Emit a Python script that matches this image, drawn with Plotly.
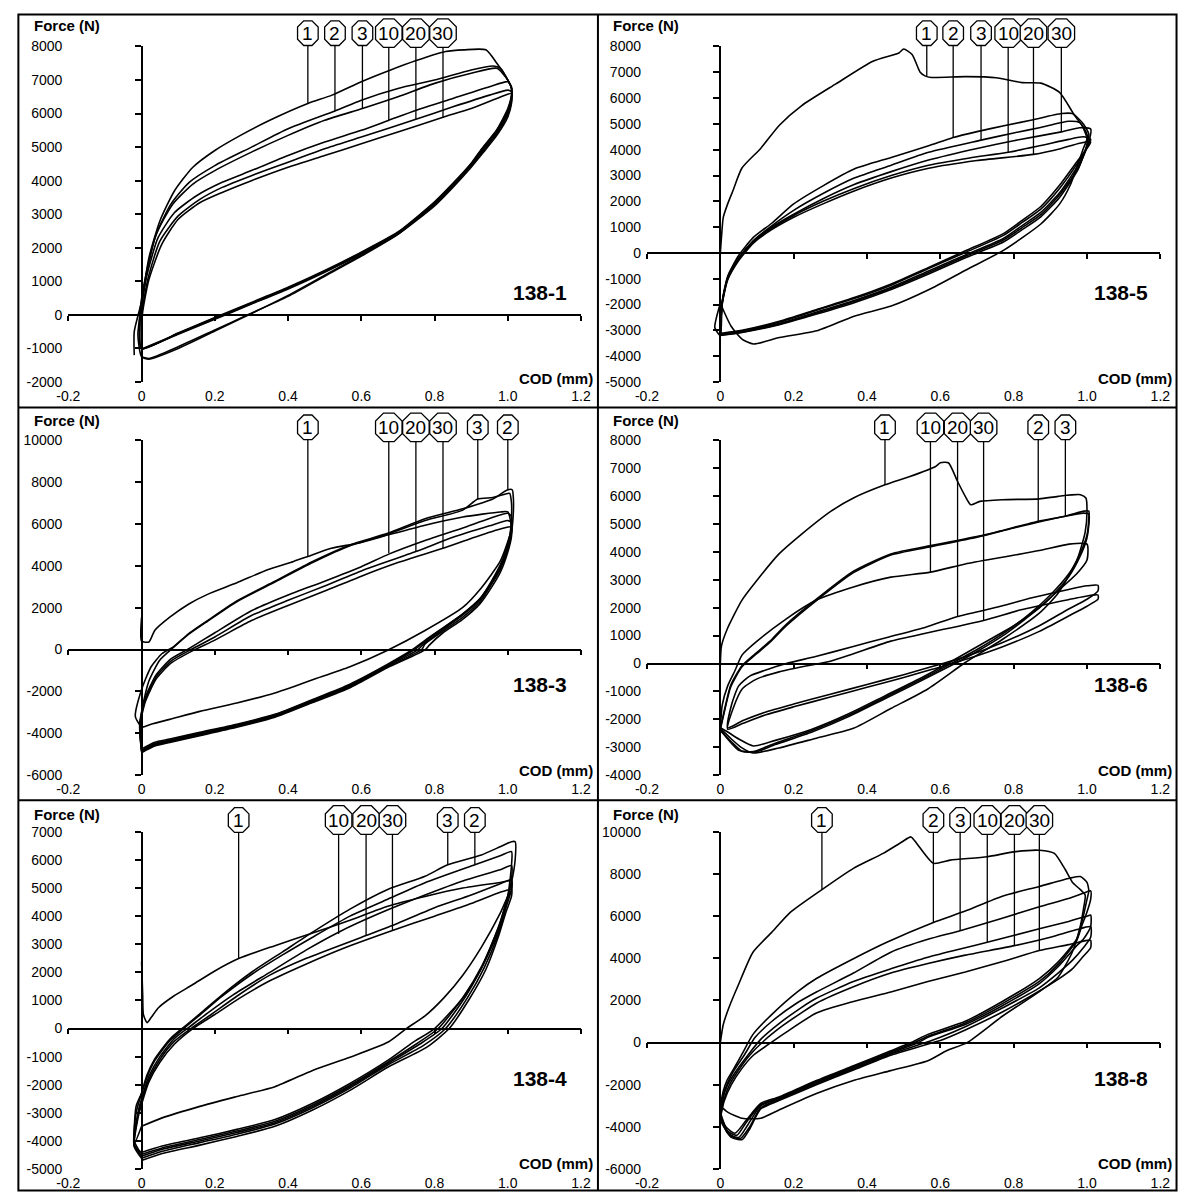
import plotly.graph_objects as go

W, H = 1188, 1200
FONT = "Liberation Sans, Arial, sans-serif"

# ------------------------------------------------------------------ data
X_TICKS = [-0.2, 0, 0.2, 0.4, 0.6, 0.8, 1.0, 1.2]
X_TICK_TEXT = ["-0.2", "0", "0.2", "0.4", "0.6", "0.8", "1.0", "1.2"]
X_RANGE = [-0.2, 1.2]

# ---------- 138-1
P1_NAME = "138-1"
P1_YRANGE = [-2000, 8000]
P1_YSTEP = 1000
P1_C1 = [(-0.02,-1200),(-0.02,-500),(0.0,400),(0.02,1700),(0.05,2800),(0.09,3700),(0.14,4400),(0.2,4900),(0.27,5350),(0.35,5800),(0.454,6300),(0.52,6550),(0.6,6950),(0.68,7300),(0.75,7580),(0.83,7850),(0.88,7900),(0.94,7900),(0.97,7500),(1.0,7000),(1.01,6750),
         (1.01,6300),(1.0,5900),(0.97,5350),(0.93,4800),(0.9,4400),(0.85,3800),(0.8,3250),(0.7,2400),(0.6,1750),(0.5,1150),(0.4,550),(0.29,0),(0.2,-450),(0.1,-950),(0.02,-1300),(0.0,-1250)]
P1_C2 = [(0.0,-1250),(-0.01,-600),(0.0,300),(0.015,1300),(0.04,2400),(0.08,3300),(0.13,3950),(0.2,4450),(0.3,5000),(0.4,5550),(0.528,6080),(0.6,6400),(0.7,6750),(0.8,7000),(0.9,7300),(0.96,7420),(0.98,7350),(1.0,7000),(1.01,6750),
         (1.01,6350),(1.0,6000),(0.97,5400),(0.93,4850),(0.9,4450),(0.85,3850),(0.8,3300),(0.7,2420),(0.6,1780),(0.5,1180),(0.4,580),(0.3,40),(0.2,-480),(0.1,-1000),(0.02,-1320),(0.0,-1250)]
P1_C3 = [(0.0,-1000),(-0.005,0),(0.012,1200),(0.04,2400),(0.085,3300),(0.14,3900),(0.2,4300),(0.3,4850),(0.4,5350),(0.5,5800),(0.603,6150),(0.7,6500),(0.8,6900),(0.9,7200),(0.97,7350),(1.0,7000),(1.01,6750),
         (1.01,6500),(1.0,6100),(0.97,5500),(0.93,4950),(0.9,4500),(0.85,3900),(0.8,3350),(0.7,2450),(0.6,1850),(0.5,1300),(0.4,800),(0.3,350),(0.2,-100),(0.1,-550),(0.0,-1000)]
P1_C10 = [(0.0,-1000),(-0.003,0),(0.015,1200),(0.045,2300),(0.09,3050),(0.15,3550),(0.22,3950),(0.3,4300),(0.4,4750),(0.5,5150),(0.6,5500),(0.675,5800),(0.75,6100),(0.85,6450),(0.95,6800),(1.0,6950),(1.01,6800),
          (1.01,6550),(1.0,6150),(0.97,5520),(0.93,4970),(0.9,4520),(0.85,3920),(0.8,3370),(0.7,2470),(0.6,1870),(0.5,1320),(0.4,820),(0.3,370),(0.2,-80),(0.1,-540),(0.0,-1000)]
P1_C20 = [(0.0,-1000),(0.0,0),(0.018,1100),(0.05,2200),(0.1,2950),(0.16,3450),(0.22,3800),(0.3,4150),(0.4,4550),(0.5,4950),(0.6,5300),(0.749,5830),(0.85,6200),(0.95,6550),(1.0,6700),(1.01,6650),
          (1.01,6450),(1.0,6050),(0.97,5480),(0.93,4930),(0.9,4480),(0.85,3880),(0.8,3330),(0.7,2430),(0.6,1830),(0.5,1290),(0.4,790),(0.3,340),(0.2,-110),(0.1,-560),(0.0,-1020)]
P1_C30 = [(0.0,-1020),(0.002,0),(0.02,1050),(0.055,2100),(0.1,2850),(0.16,3350),(0.22,3650),(0.3,4000),(0.4,4400),(0.5,4750),(0.6,5100),(0.7,5450),(0.823,5890),(0.9,6150),(0.97,6450),(1.01,6600),
          (1.01,6400),(1.0,6000),(0.97,5450),(0.93,4900),(0.9,4460),(0.85,3860),(0.8,3310),(0.7,2410),(0.6,1810),(0.5,1270),(0.4,770),(0.3,320),(0.2,-130),(0.1,-580),(0.0,-1040)]
P1_LABELS = ["1", "2", "3", "10", "20", "30"]
P1_LABEL_X = [0.454, 0.528, 0.603, 0.675, 0.749, 0.823]
P1_LABEL_F = [6300, 6080, 6150, 5800, 5830, 5890]

# ---------- 138-5
P2_NAME = "138-5"
P2_YRANGE = [-5000, 8000]
P2_YSTEP = 1000
P2_C1 = [(0.0,0),(0.003,600),(0.008,1380),(0.02,1900),(0.034,2400),(0.059,3290),(0.11,4050),(0.161,4950),(0.222,5710),(0.314,6540),(0.416,7430),(0.487,7750),(0.5,7900),(0.523,7690),(0.545,7000),(0.558,6860),(0.575,6800),(0.67,6830),(0.752,6790),(0.823,6600),(0.874,6580),(0.925,6220),(0.966,5330),(0.986,4950),(1.0,4430),
         (0.99,4050),(0.955,2650),(0.925,1890),(0.874,1120),(0.772,100),(0.67,-660),(0.568,-1430),(0.466,-2060),(0.365,-2450),(0.263,-3020),(0.161,-3280),(0.09,-3530),(0.059,-3340),(0.029,-2830),(0.0,-1950)]
P2_C2 = [(0.0,-1950),(-0.015,-2900),(0.0,-3200),(0.005,-1900),(0.02,-900),(0.05,-100),(0.09,600),(0.14,1150),(0.2,1900),(0.28,2600),(0.365,3250),(0.466,3700),(0.568,4150),(0.635,4470),(0.7,4700),(0.78,4950),(0.85,5150),(0.93,5400),(0.96,5400),(0.99,5000),(1.005,4600),
         (1.0,4200),(0.976,3250),(0.925,2150),(0.874,1400),(0.823,900),(0.772,420),(0.67,-180),(0.568,-820),(0.466,-1420),(0.365,-1930),(0.263,-2370),(0.161,-2780),(0.059,-3080),(0.0,-3200)]
P2_C3 = [(0.0,-3200),(0.005,-1900),(0.02,-950),(0.05,-200),(0.09,480),(0.14,1050),(0.2,1650),(0.28,2300),(0.365,2900),(0.466,3400),(0.568,3900),(0.711,4370),(0.8,4650),(0.87,4850),(0.95,5100),(0.98,5050),(1.0,4600),
         (1.0,4150),(0.976,3400),(0.925,2330),(0.874,1570),(0.823,1060),(0.772,560),(0.67,-70),(0.568,-700),(0.466,-1330),(0.365,-1840),(0.263,-2290),(0.161,-2730),(0.059,-3050),(0.0,-3170)]
P2_C10 = [(0.0,-3170),(0.005,-1950),(0.02,-1000),(0.05,-250),(0.09,420),(0.14,950),(0.2,1450),(0.28,2000),(0.365,2500),(0.466,3000),(0.568,3400),(0.68,3680),(0.785,3900),(0.87,4150),(0.95,4400),(0.99,4500),(1.01,4400),
          (1.0,4100),(0.976,3520),(0.925,2500),(0.874,1700),(0.823,1180),(0.772,680),(0.67,30),(0.568,-600),(0.466,-1250),(0.365,-1770),(0.263,-2220),(0.161,-2680),(0.059,-3020),(0.0,-3140)]
P2_C20 = [(0.0,-3140),(0.005,-2000),(0.02,-1050),(0.05,-300),(0.09,380),(0.14,900),(0.2,1380),(0.28,1900),(0.365,2400),(0.466,2900),(0.568,3280),(0.7,3580),(0.854,3820),(0.93,4050),(0.98,4250),(1.01,4300),
          (1.0,4050),(0.976,3600),(0.925,2620),(0.874,1800),(0.823,1260),(0.772,750),(0.67,90),(0.568,-560),(0.466,-1200),(0.365,-1730),(0.263,-2190),(0.161,-2650),(0.059,-3000),(0.0,-3120)]
P2_C30 = [(0.0,-3120),(0.005,-1950),(0.02,-980),(0.05,-220),(0.09,450),(0.14,1000),(0.2,1500),(0.28,2100),(0.365,2650),(0.466,3150),(0.568,3600),(0.7,4050),(0.8,4350),(0.93,4690),(0.98,4850),(1.01,4800),
          (1.005,4300),(0.976,3300),(0.925,2250),(0.874,1480),(0.823,980),(0.772,500),(0.67,-120),(0.568,-760),(0.466,-1370),(0.365,-1880),(0.263,-2330),(0.161,-2760),(0.059,-3070),(0.0,-3180)]
P2_LABELS = ["1", "2", "3", "10", "20", "30"]
P2_LABEL_X = [0.563, 0.635, 0.711, 0.785, 0.854, 0.930]
P2_LABEL_F = [6860, 4470, 4370, 3900, 3820, 4690]

# ---------- 138-3
P3_NAME = "138-3"
P3_YRANGE = [-6000, 10000]
P3_YSTEP = 2000
P3_C1 = [(0.0,1540),(0.0,400),(0.02,360),(0.036,910),(0.077,1540),(0.128,2160),(0.18,2630),(0.26,3180),(0.344,3810),(0.415,4200),(0.454,4440),(0.518,4830),(0.59,5070),(0.672,5460),(0.774,5930),(0.877,6320),(0.979,6560),(1.0,6560),
         (1.01,5770),(1.0,5150),(0.979,4200),(0.928,2950),(0.877,2010),(0.774,910),(0.672,-30),(0.569,-820),(0.467,-1440),(0.364,-2070),(0.26,-2550),(0.159,-2950),(0.077,-3330),(0.026,-3560),(0.0,-3720)]
P3_C2 = [(0.0,-3720),(-0.017,-3200),(0.0,-1910),(0.026,-820),(0.056,-190),(0.087,130),(0.128,750),(0.18,1380),(0.26,2320),(0.364,3260),(0.467,4200),(0.569,4990),(0.672,5540),(0.774,6240),(0.877,6710),(0.959,7180),(0.99,7530),(1.0,7620),(1.012,7620),(1.015,7260),
         (1.015,6500),(1.01,5600),(0.99,4300),(0.959,3300),(0.928,2500),(0.877,1700),(0.826,1070),(0.774,440),(0.74,0),(0.672,-700),(0.569,-1650),(0.467,-2380),(0.364,-3090),(0.26,-3560),(0.159,-3950),(0.077,-4270),(0.036,-4420),(0.0,-4740)]
P3_C3 = [(0.0,-4740),(0.0,-3000),(0.02,-1500),(0.05,-500),(0.087,100),(0.128,720),(0.18,1350),(0.26,2280),(0.364,3220),(0.467,4150),(0.569,4950),(0.672,5500),(0.774,6150),(0.877,6650),(0.918,7180),(0.959,7250),(0.99,7400),(1.005,7450),(1.01,7000),
         (1.01,6300),(1.005,5400),(0.985,4250),(0.955,3250),(0.925,2450),(0.874,1650),(0.823,1020),(0.774,400),(0.745,0),(0.672,-750),(0.569,-1700),(0.467,-2420),(0.364,-3120),(0.26,-3600),(0.159,-4000),(0.077,-4320),(0.036,-4480),(0.0,-4800)]
P3_C10 = [(0.0,-4800),(-0.005,-3500),(0.01,-2300),(0.04,-1200),(0.08,-450),(0.13,50),(0.2,800),(0.3,1850),(0.4,2600),(0.5,3260),(0.6,3950),(0.675,4550),(0.774,5200),(0.877,5800),(0.95,6250),(1.0,6500),(1.01,6350),
          (1.01,5900),(1.0,5000),(0.98,4000),(0.955,3200),(0.925,2400),(0.874,1600),(0.823,950),(0.774,330),(0.755,0),(0.672,-780),(0.569,-1740),(0.467,-2450),(0.364,-3150),(0.26,-3630),(0.159,-4030),(0.077,-4350),(0.036,-4520),(0.0,-4850)]
P3_C20 = [(0.0,-4850),(-0.005,-3600),(0.01,-2400),(0.04,-1300),(0.08,-550),(0.135,0),(0.2,600),(0.3,1620),(0.4,2350),(0.5,3030),(0.6,3750),(0.749,4670),(0.85,5350),(0.95,5900),(1.0,6150),(1.01,6050),
          (1.01,5600),(1.0,4800),(0.98,3850),(0.955,3100),(0.925,2300),(0.874,1500),(0.823,880),(0.774,270),(0.765,0),(0.672,-820),(0.569,-1780),(0.467,-2490),(0.364,-3190),(0.26,-3670),(0.159,-4070),(0.077,-4390),(0.036,-4560),(0.0,-4880)]
P3_C30 = [(0.0,-4880),(-0.005,-3700),(0.01,-2500),(0.04,-1400),(0.08,-650),(0.14,-50),(0.2,450),(0.3,1380),(0.4,2100),(0.5,2790),(0.6,3500),(0.7,4150),(0.823,4830),(0.9,5300),(0.97,5700),(1.01,5850),
          (1.01,5400),(1.0,4650),(0.98,3700),(0.955,2950),(0.925,2200),(0.874,1400),(0.823,800),(0.785,200),(0.775,0),(0.672,-860),(0.569,-1820),(0.467,-2530),(0.364,-3230),(0.26,-3710),(0.159,-4110),(0.077,-4430),(0.036,-4600),(0.0,-4920)]
P3_LABELS = ["1", "10", "20", "30", "3", "2"]
P3_LABEL_X = [0.454, 0.675, 0.749, 0.823, 0.918, 1.0]
P3_LABEL_F = [4440, 4600, 4670, 4830, 7180, 7620]

# ---------- 138-6
P4_NAME = "138-6"
P4_YRANGE = [-4000, 8000]
P4_YSTEP = 1000
P4_C1 = [(0.0,0),(0.003,620),(0.018,1210),(0.059,2270),(0.1,2980),(0.16,3920),(0.221,4620),(0.302,5450),(0.363,5920),(0.449,6390),(0.515,6680),(0.586,7040),(0.6,7180),(0.622,7180),(0.647,6510),(0.668,5980),(0.683,5680),(0.708,5800),(0.769,5860),(0.87,5890),(0.921,5980),(0.982,6040),(0.997,5920),(1.0,5450),
         (0.995,4700),(0.972,3680),(0.921,2510),(0.87,1800),(0.769,860),(0.668,35),(0.566,-910),(0.465,-1610),(0.363,-2320),(0.262,-2670),(0.16,-3020),(0.089,-3200),(0.059,-3020),(0.03,-2700),(0.0,-2320)]
P4_C2 = [(0.0,-2320),(0.008,-1850),(0.028,-790),(0.059,-80),(0.1,400),(0.14,860),(0.18,1400),(0.262,2300),(0.363,3300),(0.465,3920),(0.566,4200),(0.627,4350),(0.728,4620),(0.867,5090),(0.941,5270),(0.992,5450),(1.005,5450),
         (1.005,5200),(1.0,4600),(0.98,3900),(0.95,3200),(0.9,2450),(0.85,1850),(0.78,1150),(0.7,500),(0.63,0),(0.55,-550),(0.45,-1200),(0.35,-1850),(0.25,-2400),(0.15,-2850),(0.09,-3150),(0.05,-3100),(0.02,-2700),(0.0,-2350)]
P4_C3 = [(0.0,-2350),(0.008,-1900),(0.028,-850),(0.059,-120),(0.1,360),(0.14,820),(0.18,1350),(0.262,2250),(0.363,3250),(0.465,3880),(0.566,4160),(0.7,4520),(0.8,4850),(0.941,5270),(0.99,5380),(1.005,5350),
         (1.0,4500),(0.98,3800),(0.95,3100),(0.9,2350),(0.85,1780),(0.78,1080),(0.7,430),(0.64,0),(0.55,-600),(0.45,-1250),(0.35,-1900),(0.25,-2450),(0.15,-2900),(0.1,-3150),(0.06,-3150),(0.03,-2800),(0.0,-2400)]
P4_C10 = [(0.0,-2400),(0.005,-1500),(0.02,-800),(0.04,-250),(0.059,300),(0.1,800),(0.18,1600),(0.262,2270),(0.363,2740),(0.465,3090),(0.573,3270),(0.668,3560),(0.769,3800),(0.87,4040),(0.951,4270),(1.0,4270),
          (1.0,3700),(0.972,3210),(0.921,2600),(0.87,2000),(0.8,1350),(0.7,600),(0.62,0),(0.55,-500),(0.45,-1150),(0.35,-1800),(0.25,-2350),(0.15,-2750),(0.09,-2950),(0.05,-2700),(0.02,-2450),(0.0,-2300)]
P4_C20 = [(0.02,-2300),(0.03,-1500),(0.05,-800),(0.08,-450),(0.12,-250),(0.18,0),(0.26,250),(0.36,600),(0.46,950),(0.56,1300),(0.647,1680),(0.75,2000),(0.85,2350),(0.95,2650),(1.0,2780),(1.03,2800),(1.03,2600),
          (1.0,2300),(0.95,1950),(0.87,1350),(0.77,750),(0.67,250),(0.58,-100),(0.5,-400),(0.4,-750),(0.3,-1100),(0.2,-1450),(0.12,-1750),(0.06,-2050),(0.02,-2300)]
P4_C30 = [(0.02,-2350),(0.035,-1600),(0.06,-900),(0.1,-550),(0.16,-300),(0.23,-100),(0.3,80),(0.363,350),(0.465,800),(0.566,1100),(0.718,1540),(0.82,1920),(0.921,2210),(0.99,2390),(1.03,2450),(1.03,2300),
          (1.0,2050),(0.95,1700),(0.87,1150),(0.77,600),(0.67,150),(0.58,-200),(0.5,-500),(0.4,-850),(0.3,-1200),(0.2,-1550),(0.12,-1850),(0.06,-2150),(0.02,-2350)]
P4_LABELS = ["1", "10", "20", "30", "2", "3"]
P4_LABEL_X = [0.449, 0.573, 0.647, 0.718, 0.867, 0.941]
P4_LABEL_F = [6390, 3270, 1680, 1540, 5090, 5270]

# ---------- 138-4
P5_NAME = "138-4"
P5_YRANGE = [-5000, 7000]
P5_YSTEP = 1000
P5_C1 = [(0.0,2380),(0.003,1200),(0.005,500),(0.015,210),(0.026,390),(0.046,740),(0.087,1150),(0.138,1550),(0.2,2050),(0.265,2490),(0.364,2950),(0.467,3400),(0.569,3850),(0.672,4350),(0.774,4700),(0.877,5000),(0.979,5200),(1.01,5250),
         (1.01,4900),(1.0,4700),(0.979,4100),(0.928,2900),(0.877,1900),(0.826,1100),(0.774,450),(0.723,0),(0.672,-490),(0.569,-1020),(0.467,-1490),(0.364,-2070),(0.26,-2420),(0.159,-2770),(0.056,-3180),(0.0,-3480)]
P5_C2 = [(0.0,-3480),(-0.02,-4100),(-0.015,-2770),(0.0,-2300),(0.015,-1720),(0.036,-1140),(0.077,-430),(0.118,35),(0.159,480),(0.22,1150),(0.303,1950),(0.385,2620),(0.467,3250),(0.569,4000),(0.672,4600),(0.774,5190),(0.91,5830),(0.979,6150),(1.01,6300),
         (1.01,5800),(1.0,4720),(0.979,3780),(0.928,2140),(0.877,1090),(0.8,0),(0.74,-500),(0.672,-1135),(0.569,-1955),(0.467,-2660),(0.364,-3240),(0.26,-3590),(0.159,-3890),(0.056,-4180),(0.0,-4410)]
P5_C3 = [(0.0,-4410),(-0.02,-4200),(-0.015,-3000),(0.0,-2300),(0.015,-1650),(0.036,-1080),(0.077,-380),(0.118,80),(0.159,520),(0.22,1200),(0.303,2030),(0.385,2730),(0.467,3430),(0.569,4250),(0.672,4950),(0.774,5420),(0.836,5830),(0.928,6180),(0.979,6470),(1.01,6650),(1.02,6650),(1.02,6000),
         (1.01,5200),(0.995,4500),(0.975,3600),(0.93,2250),(0.88,1150),(0.81,0),(0.75,-550),(0.672,-1200),(0.569,-2020),(0.467,-2720),(0.364,-3300),(0.26,-3650),(0.159,-3950),(0.056,-4250),(0.0,-4480)]
P5_C10 = [(0.0,-4480),(-0.02,-4000),(-0.01,-3000),(0.0,-2500),(0.02,-1700),(0.05,-1000),(0.09,-350),(0.13,50),(0.18,550),(0.25,1200),(0.35,2000),(0.45,2800),(0.538,3430),(0.65,4100),(0.774,4750),(0.877,5250),(0.979,5650),(1.01,5800),
          (1.01,5300),(0.995,4400),(0.975,3500),(0.93,2200),(0.885,1150),(0.82,0),(0.76,-550),(0.672,-1250),(0.569,-2070),(0.467,-2770),(0.364,-3350),(0.26,-3700),(0.159,-4000),(0.056,-4300),(0.0,-4550)]
P5_C20 = [(0.0,-4550),(-0.02,-4100),(-0.01,-3100),(0.0,-2600),(0.02,-1800),(0.05,-1100),(0.09,-450),(0.135,0),(0.19,500),(0.26,1150),(0.35,1900),(0.45,2500),(0.613,3310),(0.7,3750),(0.8,4300),(0.9,4750),(0.979,5150),(1.01,5300),
          (1.01,4950),(0.995,4300),(0.975,3400),(0.935,2150),(0.89,1100),(0.83,0),(0.77,-600),(0.672,-1300),(0.569,-2120),(0.467,-2820),(0.364,-3400),(0.26,-3760),(0.159,-4060),(0.056,-4370),(0.0,-4620)]
P5_C30 = [(0.0,-4620),(-0.02,-4200),(-0.01,-3200),(0.0,-2700),(0.02,-1900),(0.05,-1200),(0.09,-550),(0.14,0),(0.2,500),(0.27,1100),(0.35,1700),(0.45,2300),(0.55,2850),(0.685,3490),(0.8,4000),(0.9,4450),(0.979,4850),(1.01,4950),
          (1.01,4700),(0.995,4150),(0.975,3300),(0.94,2100),(0.895,1050),(0.84,0),(0.78,-650),(0.672,-1380),(0.569,-2200),(0.467,-2900),(0.364,-3480),(0.26,-3840),(0.159,-4150),(0.056,-4450),(0.0,-4700)]
P5_LABELS = ["1", "10", "20", "30", "3", "2"]
P5_LABEL_X = [0.265, 0.538, 0.613, 0.685, 0.836, 0.910]
P5_LABEL_F = [2490, 3370, 3310, 3490, 5830, 5830]

# ---------- 138-8
P6_NAME = "138-8"
P6_YRANGE = [-6000, 10000]
P6_YSTEP = 2000
P6_C1 = [(0.0,0),(0.008,860),(0.023,1640),(0.049,2730),(0.089,4290),(0.14,5230),(0.19,6170),(0.277,7260),(0.363,8270),(0.444,8980),(0.495,9520),(0.52,9760),(0.536,9440),(0.581,8510),(0.627,8660),(0.728,8820),(0.8,9050),(0.87,9130),(0.911,8980),(0.941,8200),(0.962,7570),(0.982,7260),(0.995,7000),
         (0.99,6300),(0.98,5400),(0.96,4300),(0.921,3100),(0.87,2420),(0.769,1250),(0.673,0),(0.617,-390),(0.566,-860),(0.465,-1330),(0.363,-1800),(0.262,-2420),(0.16,-3200),(0.11,-3590),(0.059,-3590),(0.02,-3300),(0.0,-3000)]
P6_C2 = [(0.0,-3000),(0.008,-2300),(0.018,-1800),(0.039,-1170),(0.059,-550),(0.089,390),(0.14,1330),(0.211,2420),(0.262,3040),(0.363,3980),(0.454,4760),(0.581,5700),(0.668,6240),(0.769,6950),(0.87,7410),(0.952,7800),(0.982,7880),(1.0,7600),(1.005,7200),
         (1.0,6800),(0.99,6000),(0.972,4920),(0.921,3820),(0.87,3040),(0.769,1950),(0.668,1010),(0.566,390),(0.52,0),(0.465,-390),(0.363,-1100),(0.262,-1800),(0.16,-2580),(0.11,-2890),(0.07,-3700),(0.04,-4300),(0.015,-4000),(0.0,-3300)]
P6_C3 = [(0.0,-3300),(0.008,-2500),(0.02,-1900),(0.04,-1250),(0.065,-600),(0.095,250),(0.14,1000),(0.211,1900),(0.262,2400),(0.363,3300),(0.465,4290),(0.566,4900),(0.654,5310),(0.769,5900),(0.87,6450),(0.952,6850),(0.992,7100),(1.01,7200),(1.01,6800),
         (1.0,6200),(0.985,5500),(0.972,4850),(0.921,3700),(0.87,2900),(0.769,1850),(0.668,930),(0.566,300),(0.53,0),(0.465,-450),(0.363,-1150),(0.262,-1850),(0.16,-2620),(0.11,-2950),(0.07,-3800),(0.045,-4400),(0.02,-4200),(0.0,-3400)]
P6_C10 = [(0.0,-3400),(0.008,-2600),(0.02,-2000),(0.045,-1300),(0.075,-600),(0.11,150),(0.16,900),(0.22,1650),(0.262,2100),(0.363,2900),(0.465,3500),(0.566,4050),(0.668,4500),(0.728,4760),(0.87,5400),(0.95,5750),(1.0,6000),(1.01,6050),
          (1.01,5500),(0.99,4900),(0.972,4600),(0.921,3600),(0.87,2800),(0.769,1750),(0.668,860),(0.566,250),(0.54,0),(0.465,-500),(0.363,-1200),(0.262,-1900),(0.16,-2650),(0.11,-3000),(0.075,-3900),(0.05,-4500),(0.02,-4300),(0.0,-3500)]
P6_C20 = [(0.0,-3500),(0.01,-2700),(0.025,-2000),(0.05,-1300),(0.08,-600),(0.12,100),(0.17,800),(0.22,1400),(0.262,1870),(0.363,2650),(0.465,3300),(0.566,3750),(0.668,4150),(0.802,4600),(0.9,5000),(0.97,5350),(1.01,5500),
          (1.01,5000),(0.99,4500),(0.96,3900),(0.921,3300),(0.87,2600),(0.769,1640),(0.668,750),(0.6,250),(0.56,0),(0.465,-550),(0.363,-1250),(0.262,-1950),(0.16,-2700),(0.11,-3100),(0.08,-4000),(0.055,-4550),(0.025,-4400),(0.0,-3600)]
P6_C30 = [(0.0,-3600),(0.01,-2800),(0.03,-2000),(0.06,-1200),(0.09,-600),(0.13,-100),(0.18,500),(0.262,1400),(0.363,1950),(0.465,2400),(0.566,2900),(0.668,3350),(0.78,3900),(0.87,4370),(0.95,4650),(1.0,4850),(1.01,4850),
          (1.01,4500),(0.99,4100),(0.96,3500),(0.921,3000),(0.87,2450),(0.769,1450),(0.668,600),(0.6,100),(0.58,0),(0.465,-600),(0.363,-1300),(0.262,-2000),(0.16,-2750),(0.11,-3150),(0.08,-4100),(0.06,-4600),(0.03,-4500),(0.0,-3700)]
P6_LABELS = ["1", "2", "3", "10", "20", "30"]
P6_LABEL_X = [0.277, 0.581, 0.654, 0.728, 0.802, 0.870]
P6_LABEL_F = [7260, 5700, 5310, 4760, 4600, 4370]

# ------------------------------------------------------------------ geometry (pixels)
COL_PLOT = [(57.4, 579.8), (647.0, 1170.0)]
ROW_PLOT = [(39.0, 379.0), (437.7, 777.7), (835.0, 1176.7)]
COL_RIGHT_EDGE = [594.0, 1184.0]
COL_LEFT_EDGE = [20.0, 610.0]
ROW_TITLE_Y = [18.0, 418.0, 817.0]
ROW_COD_Y = [375.0, 773.0, 1171.0]
ROW_NAME_Y = [288.0, 686.0, 1085.0]
COL_NAME_X = [538.0, 1130.0]
ROW_CIRCLE_Y = [25.5, 425.0, 823.0]


def px(x):
    return x / W


def py(y):
    return 1 - y / H


def octagon_path(cx, cy, w, h):
    c = 0.3 * min(w, h)
    l, r, t, b = cx - w / 2, cx + w / 2, cy - h / 2, cy + h / 2
    pts = [(l + c, t), (r - c, t), (r, t + c), (r, b - c), (r - c, b), (l + c, b), (l, b - c), (l, t + c)]
    return "M " + " L ".join(f"{px(a):.6f},{py(b_):.6f}" for a, b_ in pts) + " Z"


panels = [
    dict(name=P1_NAME, yr=P1_YRANGE, ys=P1_YSTEP, loops=[P1_C1, P1_C2, P1_C3, P1_C10, P1_C20, P1_C30],
         labels=P1_LABELS, lx=P1_LABEL_X, lf=P1_LABEL_F, col=0, row=0),
    dict(name=P2_NAME, yr=P2_YRANGE, ys=P2_YSTEP, loops=[P2_C1, P2_C2, P2_C3, P2_C10, P2_C20, P2_C30],
         labels=P2_LABELS, lx=P2_LABEL_X, lf=P2_LABEL_F, col=1, row=0),
    dict(name=P3_NAME, yr=P3_YRANGE, ys=P3_YSTEP, loops=[P3_C1, P3_C2, P3_C3, P3_C10, P3_C20, P3_C30],
         labels=P3_LABELS, lx=P3_LABEL_X, lf=P3_LABEL_F, col=0, row=1),
    dict(name=P4_NAME, yr=P4_YRANGE, ys=P4_YSTEP, loops=[P4_C1, P4_C2, P4_C3, P4_C10, P4_C20, P4_C30],
         labels=P4_LABELS, lx=P4_LABEL_X, lf=P4_LABEL_F, col=1, row=1),
    dict(name=P5_NAME, yr=P5_YRANGE, ys=P5_YSTEP, loops=[P5_C1, P5_C2, P5_C3, P5_C10, P5_C20, P5_C30],
         labels=P5_LABELS, lx=P5_LABEL_X, lf=P5_LABEL_F, col=0, row=2),
    dict(name=P6_NAME, yr=P6_YRANGE, ys=P6_YSTEP, loops=[P6_C1, P6_C2, P6_C3, P6_C10, P6_C20, P6_C30],
         labels=P6_LABELS, lx=P6_LABEL_X, lf=P6_LABEL_F, col=1, row=2),
]

fig = go.Figure()
layout = {}
shapes = []
annotations = []

tickfont = dict(family=FONT, size=14, color="black")

for k, p in enumerate(panels):
    L, R = COL_PLOT[p["col"]]
    T, B = ROW_PLOT[p["row"]]
    ymin, ymax = p["yr"]
    yticks = list(range(ymin, ymax + 1, p["ys"]))
    ytext = [str(v) for v in yticks]
    main = 2 * k + 1
    cross = 2 * k + 2
    mx = "xaxis" if main == 1 else f"xaxis{main}"
    my = "yaxis" if main == 1 else f"yaxis{main}"
    mxid = "x" if main == 1 else f"x{main}"
    myid = "y" if main == 1 else f"y{main}"
    dom_x = [px(L), px(R)]
    dom_y = [py(B), py(T)]

    layout[mx] = dict(domain=dom_x, range=X_RANGE, anchor=myid, showline=False, showgrid=False,
                      zeroline=False, ticks="", tickvals=X_TICKS, ticktext=X_TICK_TEXT,
                      tickfont=tickfont, ticklabelstandoff=4, fixedrange=True)
    layout[my] = dict(domain=dom_y, range=[ymin, ymax], anchor=mxid, showline=False, showgrid=False,
                      zeroline=False, ticks="", tickvals=yticks, ticktext=ytext,
                      tickfont=tickfont, ticklabelstandoff=5, fixedrange=True)

    # crossing axes through the origin
    zero_py = T + (ymax - 0) / (ymax - ymin) * (B - T)
    zero_px = L + (0 - X_RANGE[0]) / (X_RANGE[1] - X_RANGE[0]) * (R - L)
    layout[f"xaxis{cross}"] = dict(overlaying=mxid, range=X_RANGE, anchor="free", position=py(zero_py),
                                   side="bottom", showline=True, linecolor="black", linewidth=1.7,
                                   ticks="outside", ticklen=5, tickwidth=1.7, tickcolor="black",
                                   tickvals=X_TICKS, showticklabels=False, showgrid=False,
                                   zeroline=False, fixedrange=True)
    layout[f"yaxis{cross}"] = dict(overlaying=myid, range=[ymin, ymax], anchor="free", position=px(zero_px),
                                   side="left", showline=True, linecolor="black", linewidth=1.7,
                                   ticks="outside", ticklen=6, tickwidth=1.7, tickcolor="black",
                                   tickvals=yticks, showticklabels=False, showgrid=False,
                                   zeroline=False, fixedrange=True)
    fig.add_trace(go.Scatter(x=[None], y=[None], xaxis=f"x{cross}", yaxis=f"y{cross}",
                             showlegend=False, hoverinfo="skip"))

    for loop in p["loops"]:
        xs = [a for a, b in loop]
        fs = [b for a, b in loop]
        fig.add_trace(go.Scatter(x=xs, y=fs, mode="lines", xaxis=mxid, yaxis=myid,
                                 line=dict(color="black", width=1.6, shape="spline", smoothing=0.6),
                                 showlegend=False, hoverinfo="skip"))

    # texts
    annotations.append(dict(text="<b>Force (N)</b>", x=px(COL_LEFT_EDGE[p["col"]]), y=py(ROW_TITLE_Y[p["row"]]),
                            xref="paper", yref="paper", xanchor="left", yanchor="middle", showarrow=False,
                            font=dict(family=FONT, size=15, color="black")))
    annotations.append(dict(text="<b>COD (mm)</b>", x=px(COL_RIGHT_EDGE[p["col"]]), y=py(ROW_COD_Y[p["row"]]),
                            xref="paper", yref="paper", xanchor="right", yanchor="middle", showarrow=False,
                            font=dict(family=FONT, size=15, color="black")))
    annotations.append(dict(text=f"<b>{p['name']}</b>", x=px(COL_NAME_X[p["col"]]), y=py(ROW_NAME_Y[p["row"]]),
                            xref="paper", yref="paper", xanchor="center", yanchor="middle", showarrow=False,
                            font=dict(family=FONT, size=21, color="black")))

    # octagon-framed cycle labels with leader lines
    cy = ROW_CIRCLE_Y[p["row"]]
    for lab, lx, lf in zip(p["labels"], p["lx"], p["lf"]):
        cxp = L + (lx - X_RANGE[0]) / (X_RANGE[1] - X_RANGE[0]) * (R - L)
        endp = T + (ymax - lf) / (ymax - ymin) * (B - T)
        w = 21 if len(lab) == 1 else 27
        h = 25 if len(lab) == 1 else 29
        shapes.append(dict(type="line", xref="paper", yref="paper", x0=px(cxp), x1=px(cxp),
                           y0=py(cy + h / 2), y1=py(endp), line=dict(color="black", width=1.3)))
        shapes.append(dict(type="path", xref="paper", yref="paper", path=octagon_path(cxp, cy, w, h),
                           line=dict(color="black", width=1.3), fillcolor="white"))
        annotations.append(dict(text=lab, x=px(cxp), y=py(cy), xref="paper", yref="paper",
                                xanchor="center", yanchor="middle", showarrow=False,
                                font=dict(family=FONT, size=19, color="black")))

# panel frame
FRAME_L, FRAME_T, FRAME_R, FRAME_B = 6.5, 6.5, 1186.5, 1198.5
DIV_X = 597.0
DIV_Y = [405.0, 803.0]
shapes.append(dict(type="rect", xref="paper", yref="paper", x0=px(FRAME_L), x1=px(FRAME_R),
                   y0=py(FRAME_B), y1=py(FRAME_T), line=dict(color="black", width=2)))
shapes.append(dict(type="line", xref="paper", yref="paper", x0=px(DIV_X), x1=px(DIV_X),
                   y0=py(FRAME_B), y1=py(FRAME_T), line=dict(color="black", width=2)))
for dy in DIV_Y:
    shapes.append(dict(type="line", xref="paper", yref="paper", x0=px(FRAME_L), x1=px(FRAME_R),
                       y0=py(dy), y1=py(dy), line=dict(color="black", width=2)))

fig.update_layout(**layout)
fig.update_layout(width=W, height=H, autosize=False, margin=dict(l=0, r=0, t=0, b=0, pad=0),
                  plot_bgcolor="white", paper_bgcolor="white", shapes=shapes, annotations=annotations,
                  showlegend=False, font=dict(family=FONT, color="black"))

fig.write_html("out.html", config={"displayModeBar": False},
               post_script="document.body.style.margin='0px';document.body.style.padding='0px';"
                           "document.documentElement.style.overflow='hidden';")
